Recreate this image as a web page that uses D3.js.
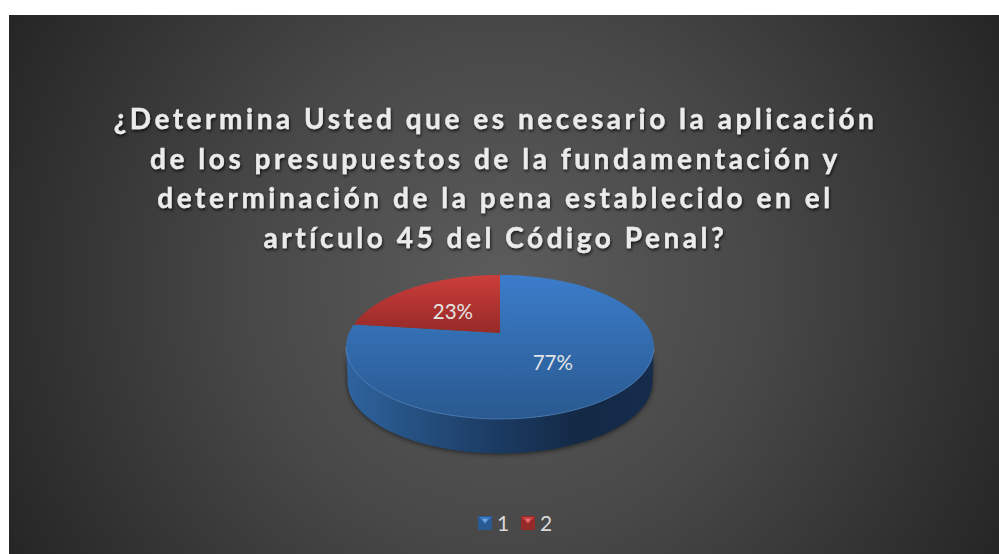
<!DOCTYPE html>
<html><head><meta charset="utf-8">
<script src="https://cdn.jsdelivr.net/npm/d3@7/dist/d3.min.js"></script>
<style>html,body{margin:0;padding:0;background:#fff;overflow:hidden}svg{display:block}</style>
</head><body><svg id="c" width="999" height="554"></svg>
<script>
const categories = ["1", "2"];
const values = [77, 23];
const valueLabels = ["77%", "23%"];
const titleLines = [
  "¿Determina Usted que es necesario la aplicación",
  "de los presupuestos de la fundamentación y",
  "determinación de la pena establecido en el",
  "artículo 45 del Código Penal?"
];
const sliceTop = ["#3b7cca", "#cc3e3b"];
const sliceBottom = ["#29598f", "#962a28"];

const svg = d3.select("#c");
const defs = svg.append("defs");

const bg = defs.append("radialGradient").attr("id","bg").attr("gradientUnits","userSpaceOnUse")
  .attr("cx",504).attr("cy",285).attr("r",565);
bg.append("stop").attr("offset",0).attr("stop-color","#5c5c5c");
bg.append("stop").attr("offset",0.45).attr("stop-color","#484848");
bg.append("stop").attr("offset",1).attr("stop-color","#252525");

svg.append("rect").attr("x",9).attr("y",15).attr("width",990).attr("height",539).attr("fill","url(#bg)");

// top-surface gradients, one per slice
const yTop = 275, yBot = 419;
categories.forEach((c,i)=>{
  const g = defs.append("linearGradient").attr("id","s"+i).attr("gradientUnits","userSpaceOnUse")
    .attr("x1",0).attr("x2",0).attr("y1",yTop).attr("y2",i===0?yBot:333);
  g.append("stop").attr("offset",0).attr("stop-color",sliceTop[i]);
  g.append("stop").attr("offset",1).attr("stop-color",sliceBottom[i]);
});
const wall = defs.append("linearGradient").attr("id","wall").attr("gradientUnits","userSpaceOnUse")
  .attr("x1",346).attr("x2",654).attr("y1",0).attr("y2",0);
[[0,"#2f649f"],[0.2,"#265283"],[0.5,"#1b3a61"],[0.75,"#132945"],[1,"#152c4d"]].forEach(([o,c])=>
  wall.append("stop").attr("offset",o).attr("stop-color",c));
const blur = defs.append("filter").attr("id","blur").attr("x","-10%").attr("y","-10%").attr("width","120%").attr("height","120%");
blur.append("feGaussianBlur").attr("stdDeviation",2.5);
const ts = defs.append("filter").attr("id","ts").attr("x","-5%").attr("y","-20%").attr("width","110%").attr("height","140%");
ts.append("feDropShadow").attr("dx",1).attr("dy",2).attr("stdDeviation",1.5).attr("flood-color","#000").attr("flood-opacity",0.7);

// perspective projection of the unit disc
const cx = 500, cy = 333, bx = 151, ay = 69.3, k = -0.194, depth = 35.5;
const project = (a, r=1, dy=0) => {
  const u = r*Math.sin(a), v = -r*Math.cos(a), w = 1 + k*v;
  return [cx + bx*u/w, cy + ay*v/w + dy];
};
const line = d3.line();
const arcs = d3.pie().sort(null).value(d=>d)(values);
const sample = (a0,a1) => d3.range(0,121).map(i=>a0+(a1-a0)*i/120);

// side wall from blue slice's visible front
const blue = sample(arcs[0].startAngle, arcs[0].endAngle);
const xs = blue.map(a=>project(a)[0]);
const iR = d3.maxIndex(xs), iL = d3.minIndex(xs);
const front = blue.slice(iR, iL+1);
const wallPts = front.map(a=>project(a)).concat(front.slice().reverse().map(a=>project(a,0.99,depth)));

svg.append("path").attr("d",line(wallPts)+"Z").attr("fill","#000").attr("opacity",0.55)
  .attr("filter","url(#blur)").attr("transform","translate(0,1)");
svg.append("path").attr("d",line(wallPts)+"Z").attr("fill","url(#wall)");

// top surface
arcs.forEach((d,i)=>{
  const pts = [[cx,cy]].concat(sample(d.startAngle,d.endAngle).map(a=>project(a)));
  svg.append("path").attr("d",line(pts)+"Z").attr("fill",`url(#s${i})`);
});
// rim highlight
svg.append("path").attr("d",line(front.map(a=>project(a)))).attr("fill","none")
  .attr("stroke","#5f97da").attr("stroke-opacity",0.55).attr("stroke-width",1);

// value labels
arcs.forEach((d,i)=>{
  const p = project((d.startAngle+d.endAngle)/2, 0.5);
  svg.append("text").attr("x",p[0]-(i===0?1:0.5)).attr("y",p[1]+(i===0?1:2)).attr("text-anchor","middle")
    .attr("dominant-baseline","central").attr("font-family","Lato")
    .attr("font-size",20.5).attr("fill","#e4e4e4").text(valueLabels[i]);
});

// title
svg.append("g").attr("filter","url(#ts)").selectAll("text").data(titleLines).join("text")
  .attr("x",495.5).attr("y",(d,i)=>129+i*39.6).attr("text-anchor","middle")
  .attr("font-family","Lato").attr("font-weight",700).attr("font-size",28)
  .attr("letter-spacing",3.53).attr("fill","#ebebeb").attr("stroke","#ebebeb").attr("stroke-width",0.35).text(d=>d);

// legend
const lx = d3.scalePoint().domain(categories).range([478,521]);
const lg = svg.append("g").selectAll("g").data(categories).join("g")
  .attr("transform",d=>`translate(${lx(d)},516)`);
lg.append("rect").attr("width",14).attr("height",14).attr("fill",(d,i)=>sliceBottom[i]);
lg.append("path").attr("d","M1,1H13L7,8Z").attr("fill",(d,i)=>sliceTop[i]);
lg.append("path").attr("d","M4,3H10L7,6.5Z").attr("fill","#fff").attr("opacity",0.3);
lg.append("text").attr("x",19).attr("y",14.5).attr("font-family","Lato").attr("font-size",21)
  .attr("fill","#d9d9d9").text(d=>d);
</script></body></html>
